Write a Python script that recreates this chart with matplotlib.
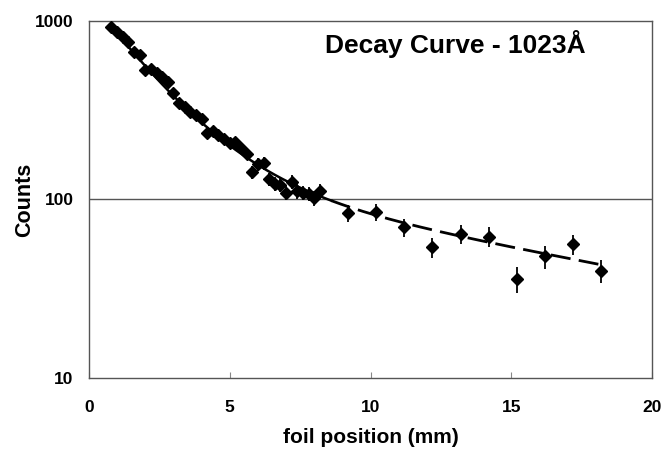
import numpy as np
import matplotlib
matplotlib.use("Agg")
import matplotlib.pyplot as plt

# ---- data ----
dense_x = [0.8, 1.0, 1.2, 1.4, 1.6, 1.8, 2.0, 2.2, 2.4, 2.6, 2.8, 3.0, 3.2, 3.4, 3.6, 3.8,
           4.0, 4.2, 4.4, 4.6, 4.8, 5.0, 5.2, 5.4, 5.6, 5.8, 6.0, 6.2, 6.4, 6.6, 6.8,
           7.0, 7.2, 7.4, 7.6, 7.8, 8.0, 8.2]
dense_y = [930, 865, 815, 765, 673, 645, 531, 538, 509, 488, 455, 394, 346, 331, 310, 297,
           281, 235, 243, 230, 217, 206, 209, 195, 181, 143, 158, 160, 130, 122, 121,
           109, 126, 111, 109, 108, 102, 111]
dense_err = [30, 29, 29, 28, 26, 25, 23, 23, 23, 22, 21, 20, 19, 18, 18, 17,
             17, 15, 16, 15, 15, 14, 14, 14, 13, 12, 13, 13, 11, 11, 11,
             10, 11, 11, 10, 10, 10, 11]

sparse_x = [9.2, 10.2, 11.2, 12.2, 13.2, 14.2, 15.2, 16.2, 17.2, 18.2]
sparse_y = [84, 85, 70, 54, 64, 62, 36, 48, 56, 40]
sparse_err = [9, 9, 8, 7, 8, 8, 6, 7, 7, 6]

# two-exponential fit parameters (fast + slow component)
fit_fast_amp = 786.0 * np.exp(0.8 / 1.97)
fit_fast_tau = 1.97
fit_slow_amp = 152.0
fit_slow_tau = 14.4
fit_solid_range = (0.75, 8.6)
fit_dashed_range = (8.6, 18.35)

x_ticks = [0, 5, 10, 15, 20]
y_ticks = [10, 100, 1000]
y_ticklabels = ["10", "100", "1000"]

title_text = "Decay Curve - 1023\u00c5"


def fit(x):
    return fit_fast_amp * np.exp(-x / fit_fast_tau) + fit_slow_amp * np.exp(-x / fit_slow_tau)


plt.rcParams['font.family'] = ['Liberation Sans', 'DejaVu Sans']

fig = plt.figure(figsize=(6.62, 4.51), dpi=100)
ax = fig.add_axes([0.1344, 0.1619, 0.985 - 0.1344, 0.9534 - 0.1619])

ax.set_yscale('log')
ax.set_xlim(0, 20)
ax.set_ylim(10, 1000)

# gridline at 100
ax.axhline(100, color='#555555', lw=1.0, zorder=1)

xs = np.linspace(*fit_solid_range, 200)
ax.plot(xs, fit(xs), color='black', lw=1.8, zorder=2)
xd = np.linspace(*fit_dashed_range, 200)
ax.plot(xd, fit(xd), color='black', lw=2.0, dashes=(7.2, 3.0), zorder=2)

all_x = dense_x + sparse_x
all_y = dense_y + sparse_y
all_e = dense_err + sparse_err
ax.errorbar(all_x, all_y, yerr=all_e, fmt='D', color='black', ms=6,
            elinewidth=1.3, capsize=0, zorder=3)

ax.text(13.0, 745, title_text, ha='center', va='center', fontsize=19,
        fontweight='bold')

for s in ax.spines.values():
    s.set_color('#555555')
    s.set_linewidth(1.0)

ax.set_xticks(x_ticks)
ax.set_xticklabels([str(t) for t in x_ticks])
ax.set_yticks(y_ticks)
ax.set_yticklabels(y_ticklabels)
ax.yaxis.set_minor_locator(matplotlib.ticker.NullLocator())
ax.tick_params(axis='x', direction='in', length=4, width=0.8, color='#888888',
               pad=16, labelsize=12.5)
ax.tick_params(axis='y', length=0, pad=11, labelsize=12.5)
for lab in ax.get_xticklabels() + ax.get_yticklabels():
    lab.set_fontweight('bold')

ax.set_xlabel('foil position (mm)', fontsize=15, fontweight='bold', labelpad=9)
ax.set_ylabel('Counts', fontsize=15.5, fontweight='bold', labelpad=0)

fig.savefig('out.png', dpi=100)
